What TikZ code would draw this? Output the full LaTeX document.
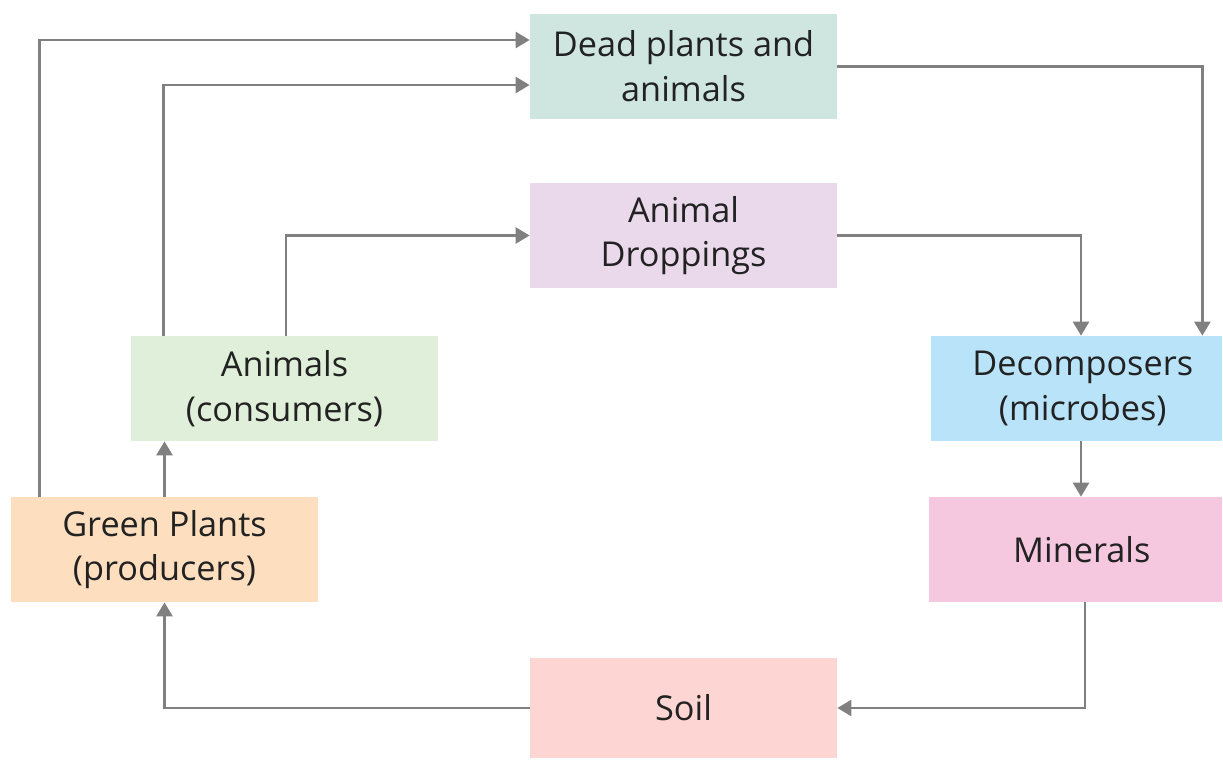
\documentclass[tikz,border=0pt]{standalone}
\usepackage{fontspec}
\setmainfont{Open Sans}
\usepackage{xcolor}
\usepackage{tikz}
\usetikzlibrary{arrows.meta,calc,positioning}

\definecolor{deadcol}{HTML}{CFE6E0}
\definecolor{dropcol}{HTML}{EAD9EA}
\definecolor{animcol}{HTML}{E0EFD9}
\definecolor{decocol}{HTML}{B8E3F8}
\definecolor{greencol}{HTML}{FDDFC0}
\definecolor{mincol}{HTML}{F6C8DF}
\definecolor{soilcol}{HTML}{FDD5D3}
\definecolor{linecol}{HTML}{808080}
\definecolor{textcol}{HTML}{222222}

\begin{document}
\begin{tikzpicture}[>={Triangle[length=0.28cm,width=0.32cm]}]
\tikzstyle{cyclebox}=[rectangle,draw=none,minimum width=6.14cm,minimum height=2.1cm,
                      align=center,inner sep=0pt,text=textcol,
                      font=\fontsize{19.5}{25.5}\selectfont]
\tikzstyle{arrow}=[->,line width=1.4pt,linecol]

\useasboundingbox (0,0) rectangle (24.46,-15.18);

% --- boxes ---
\node[cyclebox,fill=deadcol] (dead) at (13.67,-1.33) {Dead plants and\\animals};
\node[cyclebox,fill=dropcol] (drop) at (13.67,-4.71) {Animal\\Droppings};
\node[cyclebox,fill=animcol] (animals) at (5.69,-7.77) {Animals\\(consumers)};
\node[cyclebox,fill=decocol,minimum width=5.82cm] (decomp) at (21.53,-7.77) {\hspace*{0.25cm}Decomposers\\\hspace*{0.25cm}(microbes)};
\node[cyclebox,fill=greencol] (green) at (3.29,-10.99) {Green Plants\\(producers)};
\node[cyclebox,fill=mincol,minimum width=5.86cm] (minerals) at (21.51,-10.99) {\hspace*{0.25cm}Minerals};
\node[cyclebox,fill=soilcol,minimum height=2.0cm] (soil) at (13.67,-14.16) {Soil};

% --- arrows ---
\draw[arrow] ([xshift=0.58cm]green.north west) |- ([yshift=0.53cm]dead.west);
\draw[arrow] ([xshift=0.66cm]animals.north west) |- ([yshift=-0.37cm]dead.west);
\draw[arrow] ([xshift=0.03cm]animals.north) |- (drop.west);
\draw[arrow] (green.north) -- (animals.south -| green.north);
\draw[arrow] (dead.east) -| ([xshift=-0.4cm]decomp.north east);
\draw[arrow] (drop.east) -| ([xshift=0.09cm]decomp.north);
\draw[arrow] ([xshift=0.09cm]decomp.south) -- ([xshift=0.09cm]decomp.south |- minerals.north);
\draw[arrow] ([xshift=0.19cm]minerals.south) |- (soil.east);
\draw[arrow] (soil.west) -| (green.south);

\end{tikzpicture}
\end{document}
